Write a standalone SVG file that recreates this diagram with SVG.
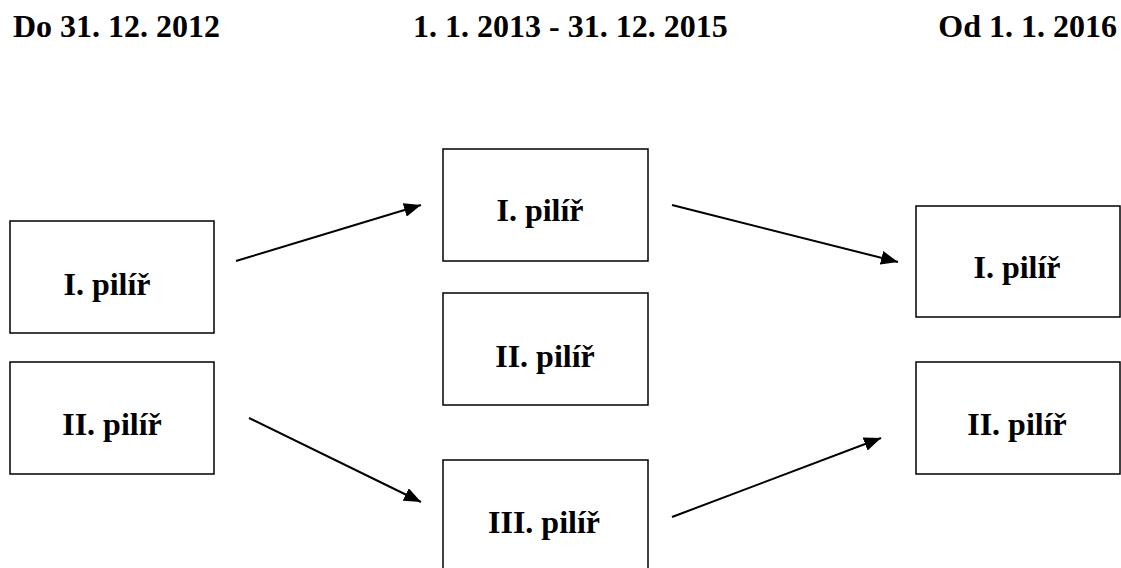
<svg xmlns="http://www.w3.org/2000/svg" width="1121" height="568" viewBox="0 0 1121 568">
  <defs>
    <style>
      .box { fill: #fff; stroke: #000; stroke-width: 1.5; }
      .lbl { font-family: "Liberation Serif", "Times New Roman", serif; font-weight: bold; font-size: 32px; fill: #000; }
      .conn { stroke: #000; stroke-width: 2; fill: none; marker-end: url(#arrow); }
    </style>
    <marker id="arrow" markerUnits="userSpaceOnUse" markerWidth="18" markerHeight="14" refX="17" refY="7" orient="auto">
      <path d="M0,0 L17,7 L0,14 z" fill="#000"/>
    </marker>
  </defs>
  <rect width="1121" height="568" fill="#fff"/>

  <g id="headers">
    <text class="lbl" x="13" y="37">Do 31. 12. 2012</text>
    <text class="lbl" x="413" y="37">1. 1. 2013 - 31. 12. 2015</text>
    <text class="lbl" x="1117" y="37" text-anchor="end">Od 1. 1. 2016</text>
  </g>

  <g id="left-pillar1">
    <rect class="box" x="10" y="221" width="204" height="112"/>
    <text class="lbl" x="107" y="295" text-anchor="middle">I. pilíř</text>
  </g>
  <g id="left-pillar2">
    <rect class="box" x="10" y="362" width="204" height="112"/>
    <text class="lbl" x="112" y="435" text-anchor="middle">II. pilíř</text>
  </g>

  <g id="mid-pillar1">
    <rect class="box" x="443" y="149" width="205" height="112"/>
    <text class="lbl" x="540" y="221" text-anchor="middle">I. pilíř</text>
  </g>
  <g id="mid-pillar2">
    <rect class="box" x="443" y="293" width="205" height="112"/>
    <text class="lbl" x="545" y="367" text-anchor="middle">II. pilíř</text>
  </g>
  <g id="mid-pillar3">
    <rect class="box" x="443" y="460" width="205" height="112"/>
    <text class="lbl" x="544" y="533" text-anchor="middle">III. pilíř</text>
  </g>

  <g id="right-pillar1">
    <rect class="box" x="916" y="206" width="204" height="111"/>
    <text class="lbl" x="1017" y="278" text-anchor="middle">I. pilíř</text>
  </g>
  <g id="right-pillar2">
    <rect class="box" x="916" y="362" width="204" height="112"/>
    <text class="lbl" x="1017" y="435" text-anchor="middle">II. pilíř</text>
  </g>

  <g id="connectors">
    <line class="conn" x1="236" y1="261" x2="421" y2="205"/>
    <line class="conn" x1="249" y1="418" x2="421" y2="502"/>
    <line class="conn" x1="672" y1="205" x2="898" y2="262"/>
    <line class="conn" x1="672" y1="517" x2="881" y2="438"/>
  </g>
</svg>
